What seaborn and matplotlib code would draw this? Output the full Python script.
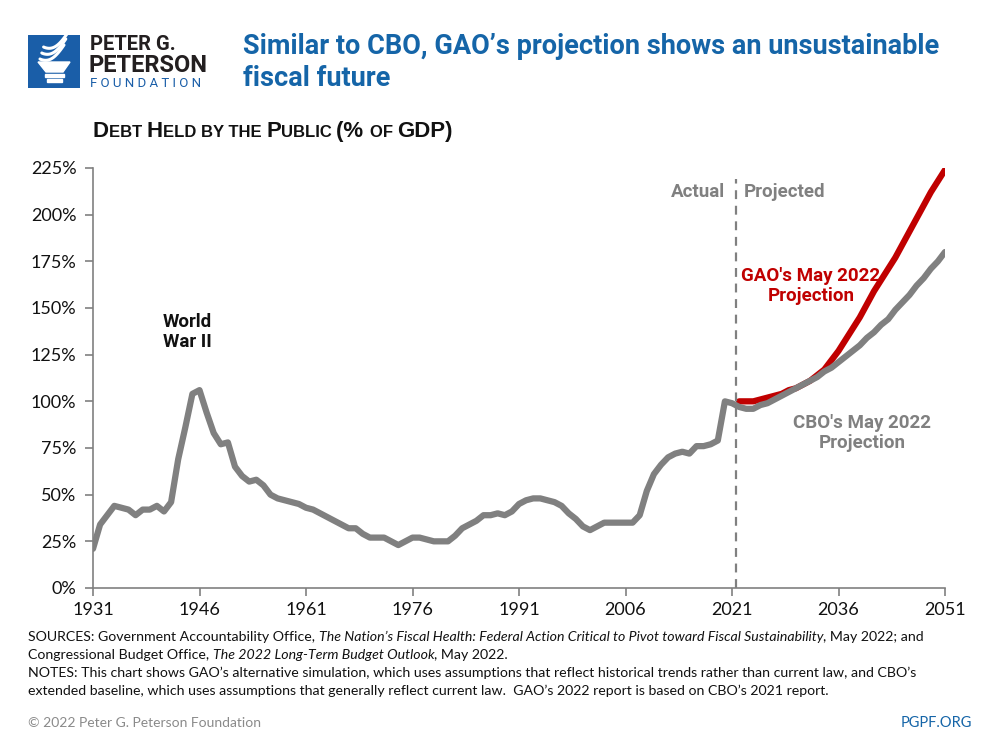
import numpy as np
import pandas as pd
import matplotlib
matplotlib.use("Agg")
import matplotlib.pyplot as plt
import seaborn as sns
from matplotlib.patches import Rectangle, Polygon
from matplotlib.offsetbox import TextArea, HPacker, AnnotationBbox

# debt held by the public, % of GDP
actual_years = list(range(1931, 2022))
actual_debt = [21, 34, 39, 44, 43, 42, 39, 42, 42, 44,
               41, 46, 69, 86, 104, 106, 94, 83, 77, 78,
               65, 60, 57, 58, 55, 50, 48, 47, 46, 45,
               43, 42, 40, 38, 36, 34, 32, 32, 29, 27,
               27, 27, 25, 23, 25, 27, 27, 26, 25, 25,
               25, 28, 32, 34, 36, 39, 39, 40, 39, 41,
               45, 47, 48, 48, 47, 46, 44, 40, 37, 33,
               31, 33, 35, 35, 35, 35, 35, 39, 52, 61,
               66, 70, 72, 73, 72, 76, 76, 77, 79, 100,
               99]
proj_years = list(range(2022, 2052))
cbo_proj = [97, 96, 96, 98, 99, 101, 103, 105, 107, 109,
            111, 113, 116, 118, 121, 124, 127, 130, 134, 137,
            141, 144, 149, 153, 157, 162, 166, 171, 175, 180]
gao_proj = [100, 100, 100, 101, 102, 103, 104, 106, 107, 109,
            111, 114, 117, 122, 127, 133, 139, 145, 152, 159,
            165, 171, 177, 184, 191, 198, 205, 212, 218, 224]

yticks = [0, 25, 50, 75, 100, 125, 150, 175, 200, 225]
xticks = [1931, 1946, 1961, 1976, 1991, 2006, 2021, 2036, 2051]

GRAY = "#808080"
RED = "#c00000"
BLUE = "#1565a8"

df = pd.concat([
    pd.DataFrame({"year": proj_years, "debt": gao_proj, "series": "GAO"}),
    pd.DataFrame({"year": actual_years + proj_years, "debt": actual_debt + cbo_proj, "series": "CBO"}),
])

sns.set_style("white")
plt.rcParams["font.family"] = ["Lato", "DejaVu Sans"]

fig = plt.figure(figsize=(10, 7.5), dpi=100)
ax = fig.add_axes([0.093, 1 - 588 / 750, 0.852, 420 / 750])

sns.lineplot(data=df, x="year", y="debt", hue="series", palette={"GAO": RED, "CBO": GRAY},
             linewidth=4.5, legend=False, ax=ax, estimator=None, sort=True)

ax.axvline(2021.5, ymin=0, ymax=0.975, color=GRAY, lw=1.6, ls=(0, (4, 3)))

ax.set_xlim(1931, 2051)
ax.set_ylim(0, 225)
ax.set_xticks(xticks)
ax.set_yticks(yticks)
ax.set_yticklabels([f"{v}%" for v in yticks])
ax.set_xlabel("")
ax.set_ylabel("")
for s in ["top", "right"]:
    ax.spines[s].set_visible(False)
for s in ["left", "bottom"]:
    ax.spines[s].set_color(GRAY)
    ax.spines[s].set_linewidth(1.2)
ax.tick_params(axis="both", which="major", length=6, width=1.2, color=GRAY,
               labelsize=13, labelcolor="#111111", left=True, bottom=True)
ax.tick_params(axis="y", pad=6)
ax.tick_params(axis="x", pad=4)

# annotations
ann = dict(fontsize=13.5, fontweight="bold", family="Roboto", linespacing=1.15)
ax.text(1944.3, 137, "World\nWar II", ha="center", va="center", color="#111111", **ann)
ax.text(2020.0, 212, "Actual", ha="right", va="center", color=GRAY, **ann)
ax.text(2022.6, 212, "Projected", ha="left", va="center", color=GRAY, **ann)
ax.text(2032.1, 162, "GAO's May 2022\nProjection", ha="center", va="center", color=RED, **ann)
ax.text(2039.3, 83, "CBO's May 2022\nProjection", ha="center", va="center", color=GRAY, **ann)

# title
fig.text(0.243, 1 - 47 / 750, "Similar to CBO, GAO\u2019s projection shows an unsustainable",
         fontsize=19.5, fontweight="bold", color=BLUE, va="center", family="Roboto")
fig.text(0.243, 1 - 78 / 750, "fiscal future",
         fontsize=19.5, fontweight="bold", color=BLUE, va="center", family="Roboto")


def rich_line(parts, x, y, size, color="#111111", family="Lato"):
    boxes = []
    for txt, style in parts:
        props = dict(color=color, family=family, size=size)
        if style == "i":
            props["style"] = "italic"
        elif style == "B":
            props["weight"] = "bold"
        elif style == "b":
            props["weight"] = "bold"
            props["size"] = size * 0.75
        boxes.append(TextArea(txt, textprops=props))
    pack = HPacker(children=boxes, align="baseline", pad=0, sep=0)
    ab = AnnotationBbox(pack, (x, y), xycoords="figure fraction", box_alignment=(0, 0),
                        frameon=False, pad=0, annotation_clip=False)
    fig.add_artist(ab)


# subtitle in small caps
rich_line([("D", "B"), ("EBT ", "b"), ("H", "B"), ("ELD BY THE ", "b"), ("P", "B"),
           ("UBLIC ", "b"), ("(% ", "B"), ("OF ", "b"), ("GDP)", "B")],
          0.093, 1 - 142 / 750, 16, family="Liberation Sans")

# footnotes
fs = 10.2
rich_line([("SOURCES: Government Accountability Office, ", "n"),
           ("The Nation\u2019s Fiscal Health: Federal Action Critical to Pivot toward Fiscal Sustainability", "i"),
           (", May 2022; and", "n")], 0.028, 1 - 643 / 750, fs)
rich_line([("Congressional Budget Office, ", "n"), ("The 2022 Long-Term Budget Outlook", "i"),
           (", May 2022.", "n")], 0.028, 1 - 661 / 750, fs)
rich_line([("NOTES: This chart shows GAO\u2019s alternative simulation, which uses assumptions that reflect "
            "historical trends rather than current law, and CBO\u2019s", "n")], 0.028, 1 - 679 / 750, fs)
rich_line([("extended baseline, which uses assumptions that generally reflect current law.  "
            "GAO\u2019s 2022 report is based on CBO\u2019s 2021 report.", "n")], 0.028, 1 - 697 / 750, fs)

fig.text(0.028, 1 - 723 / 750, "\u00a9 2022 Peter G. Peterson Foundation", fontsize=10,
         color="#8a8a8a", va="center", family="Lato")
fig.text(0.972, 1 - 723 / 750, "PGPF.ORG", fontsize=10.5, color=BLUE, va="center", ha="right",
         family="Lato")

# logo
lax = fig.add_axes([28 / 1000, 1 - 88 / 750, 52 / 1000, 53 / 750])
lax.set_xlim(28, 80)
lax.set_ylim(88, 35)
lax.axis("off")
lax.add_patch(Rectangle((28, 35), 52, 53, color="#1a5ea8"))
lax.add_patch(Polygon([(38, 62), (70, 62), (63, 72), (46, 72)], color="white"))
lax.add_patch(Rectangle((45, 74), 19, 3, color="white"))
lax.add_patch(Rectangle((47, 79), 15, 3, color="white"))
for dy in [0, 6, 12]:
    t = np.linspace(0, 1, 30)
    lax.plot(40 + dy * 0.3 + 24 * t, 59 - dy - 14 * t ** 1.6 + 4 * np.sin(np.pi * t),
             color="white", lw=2.2, solid_capstyle="round")
fig.text(0.090, 1 - 44 / 750, "PETER G.", fontsize=14.5, fontweight="bold", color="#231f20",
         va="center", family="Roboto")
fig.text(0.089, 1 - 66 / 750, "PETERSON", fontsize=17, fontweight="bold", color="#231f20",
         va="center", family="Roboto")
fig.text(0.090, 1 - 83.5 / 750, "F O U N D A T I O N", fontsize=9.5, color="#1a5ea8",
         va="center", family="Roboto")

fig.savefig("out.png", dpi=100, facecolor="white")
